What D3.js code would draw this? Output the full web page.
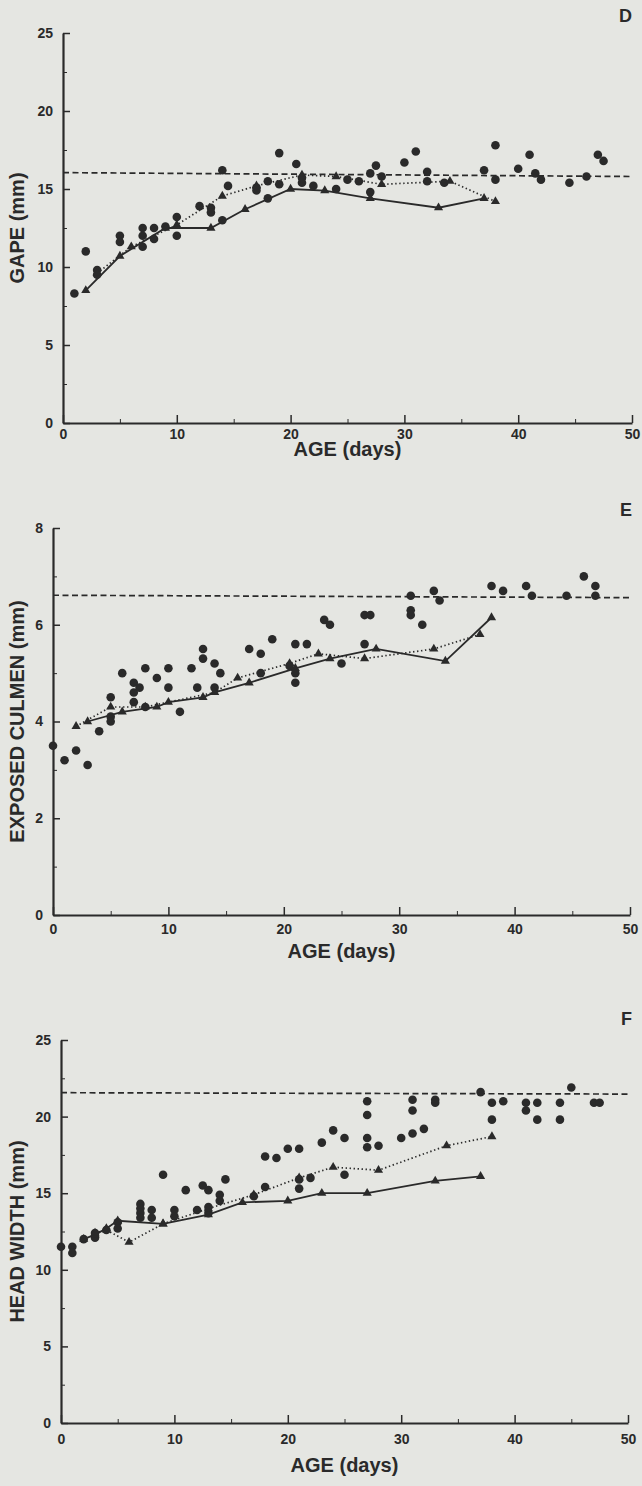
<!DOCTYPE html>
<meta charset="utf-8">
<script src="https://d3js.org/d3.v7.min.js"></script>

<style>
  body { margin: 0; background-color: #e5e6e2; }
  svg { font-family: 'Liberation Sans', Arial, sans-serif; }
  .axis path, .axis line { stroke: #2a2a2a; }
  .axis text { fill: #2a2a2a; font-size: 14px; font-weight: bold; }
</style>

<div id="my_dataviz"></div>

<script>

// ---------------------------//
//       DATA                 //
// ---------------------------//

// age in days, value in mm
var gapeDots = [[1,8.3],[2,11.0],[3,9.8],[3,9.5],[5,12.0],[5,11.6],[7,12.5],[7,12.0],[7,11.3],[8,12.5],[8,11.8],[9,12.6],
  [10,13.2],[10,12.0],[12,13.9],[13,13.8],[13,13.5],[14,16.2],[14.5,15.2],[14,13.0],[17,15.1],[17,14.9],[18,15.5],[18,14.4],
  [19,17.3],[19,15.3],[20.5,16.6],[21,15.4],[21,15.7],[22,15.2],[24,15.0],[25,15.6],[26,15.5],[27,16.0],[27.5,16.5],[28,15.8],
  [27,14.8],[30,16.7],[31,17.4],[32,16.1],[32,15.5],[33.5,15.4],[37,16.2],[38,17.8],[38,15.6],[40,16.3],[41,17.2],[41.5,16.0],
  [42,15.6],[44.5,15.4],[46,15.8],[47,17.2],[47.5,16.8]]
var gapeSolid = [[2,8.5],[5,10.7],[9,12.5],[13,12.5],[16,13.7],[20,15.0],[23,14.9],[27,14.4],[33,13.8],[37,14.4]]
var gapeDotted = [[3,9.6],[6,11.3],[10,12.7],[14,14.55],[17,15.2],[21,15.9],[24,15.8],[28,15.3],[34,15.5],[38,14.2]]
var gapeAdult = [16.05, 15.8]

var culmenDots = [[0,3.5],[1,3.2],[2,3.4],[3,3.1],[4,3.8],[5,4.5],[5,4.1],[5,4.0],[6,5.0],[7,4.8],[7,4.6],[7.5,4.7],[7,4.4],
  [8,4.3],[8,5.1],[9,4.9],[10,5.1],[10,4.7],[11,4.2],[12,5.1],[12.5,4.7],[13,5.5],[13,5.3],[14,5.2],[14.5,5.0],[14,4.7],
  [17,5.5],[18,5.4],[18,5.0],[19,5.7],[21,5.6],[22,5.6],[21,5.0],[21,4.8],[20.5,5.15],[23.5,6.1],[24,6.0],[25,5.2],
  [27,6.2],[27.5,6.2],[27,5.6],[31,6.6],[31,6.3],[31,6.2],[32,6.0],[33,6.7],[33.5,6.5],[38,6.8],[39,6.7],[41,6.8],
  [41.5,6.6],[44.5,6.6],[46,7.0],[47,6.8],[47,6.6]]
var culmenSolid = [[3,4.0],[6,4.2],[9,4.3],[10,4.4],[13,4.5],[14,4.6],[17,4.8],[21,5.1],[24,5.3],[28,5.5],[34,5.25],[38,6.15]]
var culmenDotted = [[2,3.9],[5,4.3],[8,4.3],[14,4.6],[16,4.9],[20.5,5.2],[23,5.4],[27,5.3],[33,5.5],[37,5.8]]
var culmenAdult = [6.61, 6.56]

var headDots = [[0,11.5],[1,11.5],[1,11.1],[2,12.0],[3,12.4],[3,12.1],[4,12.6],[5,13.1],[5,12.7],[7,14.3],[7,14.0],[7,13.7],
  [7,13.4],[8,13.9],[8,13.4],[9,16.2],[10,13.9],[10,13.5],[11,15.2],[12,13.9],[12.5,15.5],[13,15.2],[13,14.1],[13,13.7],
  [14,14.9],[14,14.5],[14.5,15.9],[17,14.8],[18,17.4],[19,17.3],[18,15.4],[20,17.9],[21,17.9],[21,15.9],[21,15.3],[22,16.0],
  [23,18.3],[24,19.1],[25,18.6],[25,16.2],[27,21.0],[27,20.1],[27,18.6],[27,18.0],[28,18.1],[30,18.6],[31,18.9],[32,19.2],
  [31,21.1],[31,20.4],[33,21.1],[33,20.9],[37,21.6],[38,20.9],[38,19.8],[39,21.0],[41,20.9],[41,20.4],[42,20.9],[42,19.8],
  [44,20.9],[44,19.8],[45,21.9],[47,20.9],[47.5,20.9]]
var headSolid = [[2,12.0],[3,12.3],[4,12.7],[5,13.2],[9,13.0],[13,13.6],[16,14.4],[20,14.5],[23,15.0],[27,15.0],[33,15.8],[37,16.1]]
var headDotted = [[3,12.4],[4,12.6],[6,11.8],[9,13.0],[13,14.0],[17,14.9],[21,16.0],[24,16.7],[28,16.5],[34,18.1],[38,18.7]]
var headAdult = [21.56, 21.47]

// ticks
var ageTicks = [0, 10, 20, 30, 40, 50]
var ageMinor = [5, 15, 25, 35, 45]
var mm25Ticks = [0, 5, 10, 15, 20, 25]
var mm25Minor = [2.5, 7.5, 12.5, 17.5, 22.5]
var mm8Ticks = [0, 2, 4, 6, 8]
var mm8Minor = [1, 3, 5, 7]

var ink = "#2a2a2a"

// append the svg object to the body of the page
var svg = d3.select("#my_dataviz")
  .append("svg")
    .attr("width", 642)
    .attr("height", 1486)

// ---------------------------//
//       ONE PANEL            //
// ---------------------------//

function drawPanel(p) {

  var x = d3.scaleLinear().domain([0, 50]).range([p.left, p.right])
  var y = d3.scaleLinear().domain([0, p.yMax]).range([p.bottom, p.top])

  // axes, ticks pointing inward
  svg.append("g")
    .attr("class", "axis")
    .attr("transform", "translate(0," + p.bottom + ")")
    .call(d3.axisBottom(x).tickValues(ageTicks).tickSizeInner(-8).tickSizeOuter(0).tickPadding(p.xPad))
    .call(function(g) { g.select(".domain").attr("stroke-width", 2.2) })
    .call(function(g) { g.selectAll(".tick line").attr("stroke-width", 1.5) })
  svg.append("g")
    .attr("class", "axis")
    .attr("transform", "translate(0," + p.bottom + ")")
    .call(d3.axisBottom(x).tickValues(ageMinor).tickSize(-4).tickFormat(""))
    .call(function(g) { g.select(".domain").remove() })

  svg.append("g")
    .attr("class", "axis")
    .attr("transform", "translate(" + p.left + ",0)")
    .call(d3.axisLeft(y).tickValues(p.yTicks).tickSizeInner(-7).tickSizeOuter(0).tickPadding(10))
    .call(function(g) { g.select(".domain").attr("stroke-width", 2.2) })
    .call(function(g) { g.selectAll(".tick line").attr("stroke-width", 1.5) })
  svg.append("g")
    .attr("class", "axis")
    .attr("transform", "translate(" + p.left + ",0)")
    .call(d3.axisLeft(y).tickValues(p.yMinor).tickSize(-4).tickFormat(""))
    .call(function(g) { g.select(".domain").remove() })

  // axis titles
  svg.append("text")
    .attr("x", (p.left + p.right) / 2)
    .attr("y", p.bottom + p.titleGap)
    .attr("text-anchor", "middle")
    .style("font-size", "20px")
    .style("font-weight", "bold")
    .style("fill", ink)
    .text("AGE (days)")

  svg.append("text")
    .attr("transform", "translate(24," + (p.top + p.bottom) / 2 + ") rotate(-90)")
    .attr("text-anchor", "middle")
    .style("font-size", "20px")
    .style("font-weight", "bold")
    .style("fill", ink)
    .text(p.yTitle)

  // panel letter
  svg.append("text")
    .attr("x", 632)
    .attr("y", p.letterY)
    .attr("text-anchor", "end")
    .style("font-size", "18px")
    .style("font-weight", "bold")
    .style("fill", ink)
    .text(p.letter)

  // adult mean, dashed
  svg.append("line")
    .attr("x1", x(0)).attr("x2", x(50))
    .attr("y1", y(p.adult[0])).attr("y2", y(p.adult[1]))
    .attr("stroke", ink)
    .attr("stroke-width", 1.7)
    .style("stroke-dasharray", "6,3.5")

  var line = d3.line()
    .x(function(d) { return x(d[0]) })
    .y(function(d) { return y(d[1]) })

  svg.append("path")
    .datum(p.solid)
    .attr("d", line)
    .attr("fill", "none")
    .attr("stroke", ink)
    .attr("stroke-width", 1.8)

  svg.append("path")
    .datum(p.dotted)
    .attr("d", line)
    .attr("fill", "none")
    .attr("stroke", ink)
    .attr("stroke-width", 1.7)
    .style("stroke-dasharray", "1.4,2.6")

  // dots
  svg.append("g")
    .selectAll("circle")
    .data(p.dots)
    .enter()
    .append("circle")
      .attr("cx", function(d) { return x(d[0]) })
      .attr("cy", function(d) { return y(d[1]) })
      .attr("r", 4.3)
      .style("fill", ink)

  // triangles on both lines
  var tri = d3.symbol().type(d3.symbolTriangle).size(36)
  svg.append("g")
    .selectAll("path")
    .data(p.solid.concat(p.dotted))
    .enter()
    .append("path")
      .attr("d", tri)
      .attr("transform", function(d) { return "translate(" + x(d[0]) + "," + y(d[1]) + ")" })
      .style("fill", ink)
}

drawPanel({ left: 63, right: 632, top: 33, bottom: 423, yMax: 25, yTicks: mm25Ticks, yMinor: mm25Minor,
  xPad: 6, titleGap: 33, yTitle: "GAPE (mm)", letter: "D", letterY: 22,
  dots: gapeDots, solid: gapeSolid, dotted: gapeDotted, adult: gapeAdult })

drawPanel({ left: 53, right: 630, top: 528, bottom: 915, yMax: 8, yTicks: mm8Ticks, yMinor: mm8Minor,
  xPad: 9, titleGap: 43, yTitle: "EXPOSED CULMEN (mm)", letter: "E", letterY: 516,
  dots: culmenDots, solid: culmenSolid, dotted: culmenDotted, adult: culmenAdult })

drawPanel({ left: 61, right: 628, top: 1040, bottom: 1423, yMax: 25, yTicks: mm25Ticks, yMinor: mm25Minor,
  xPad: 11, titleGap: 49, yTitle: "HEAD WIDTH (mm)", letter: "F", letterY: 1025,
  dots: headDots, solid: headSolid, dotted: headDotted, adult: headAdult })

</script>
